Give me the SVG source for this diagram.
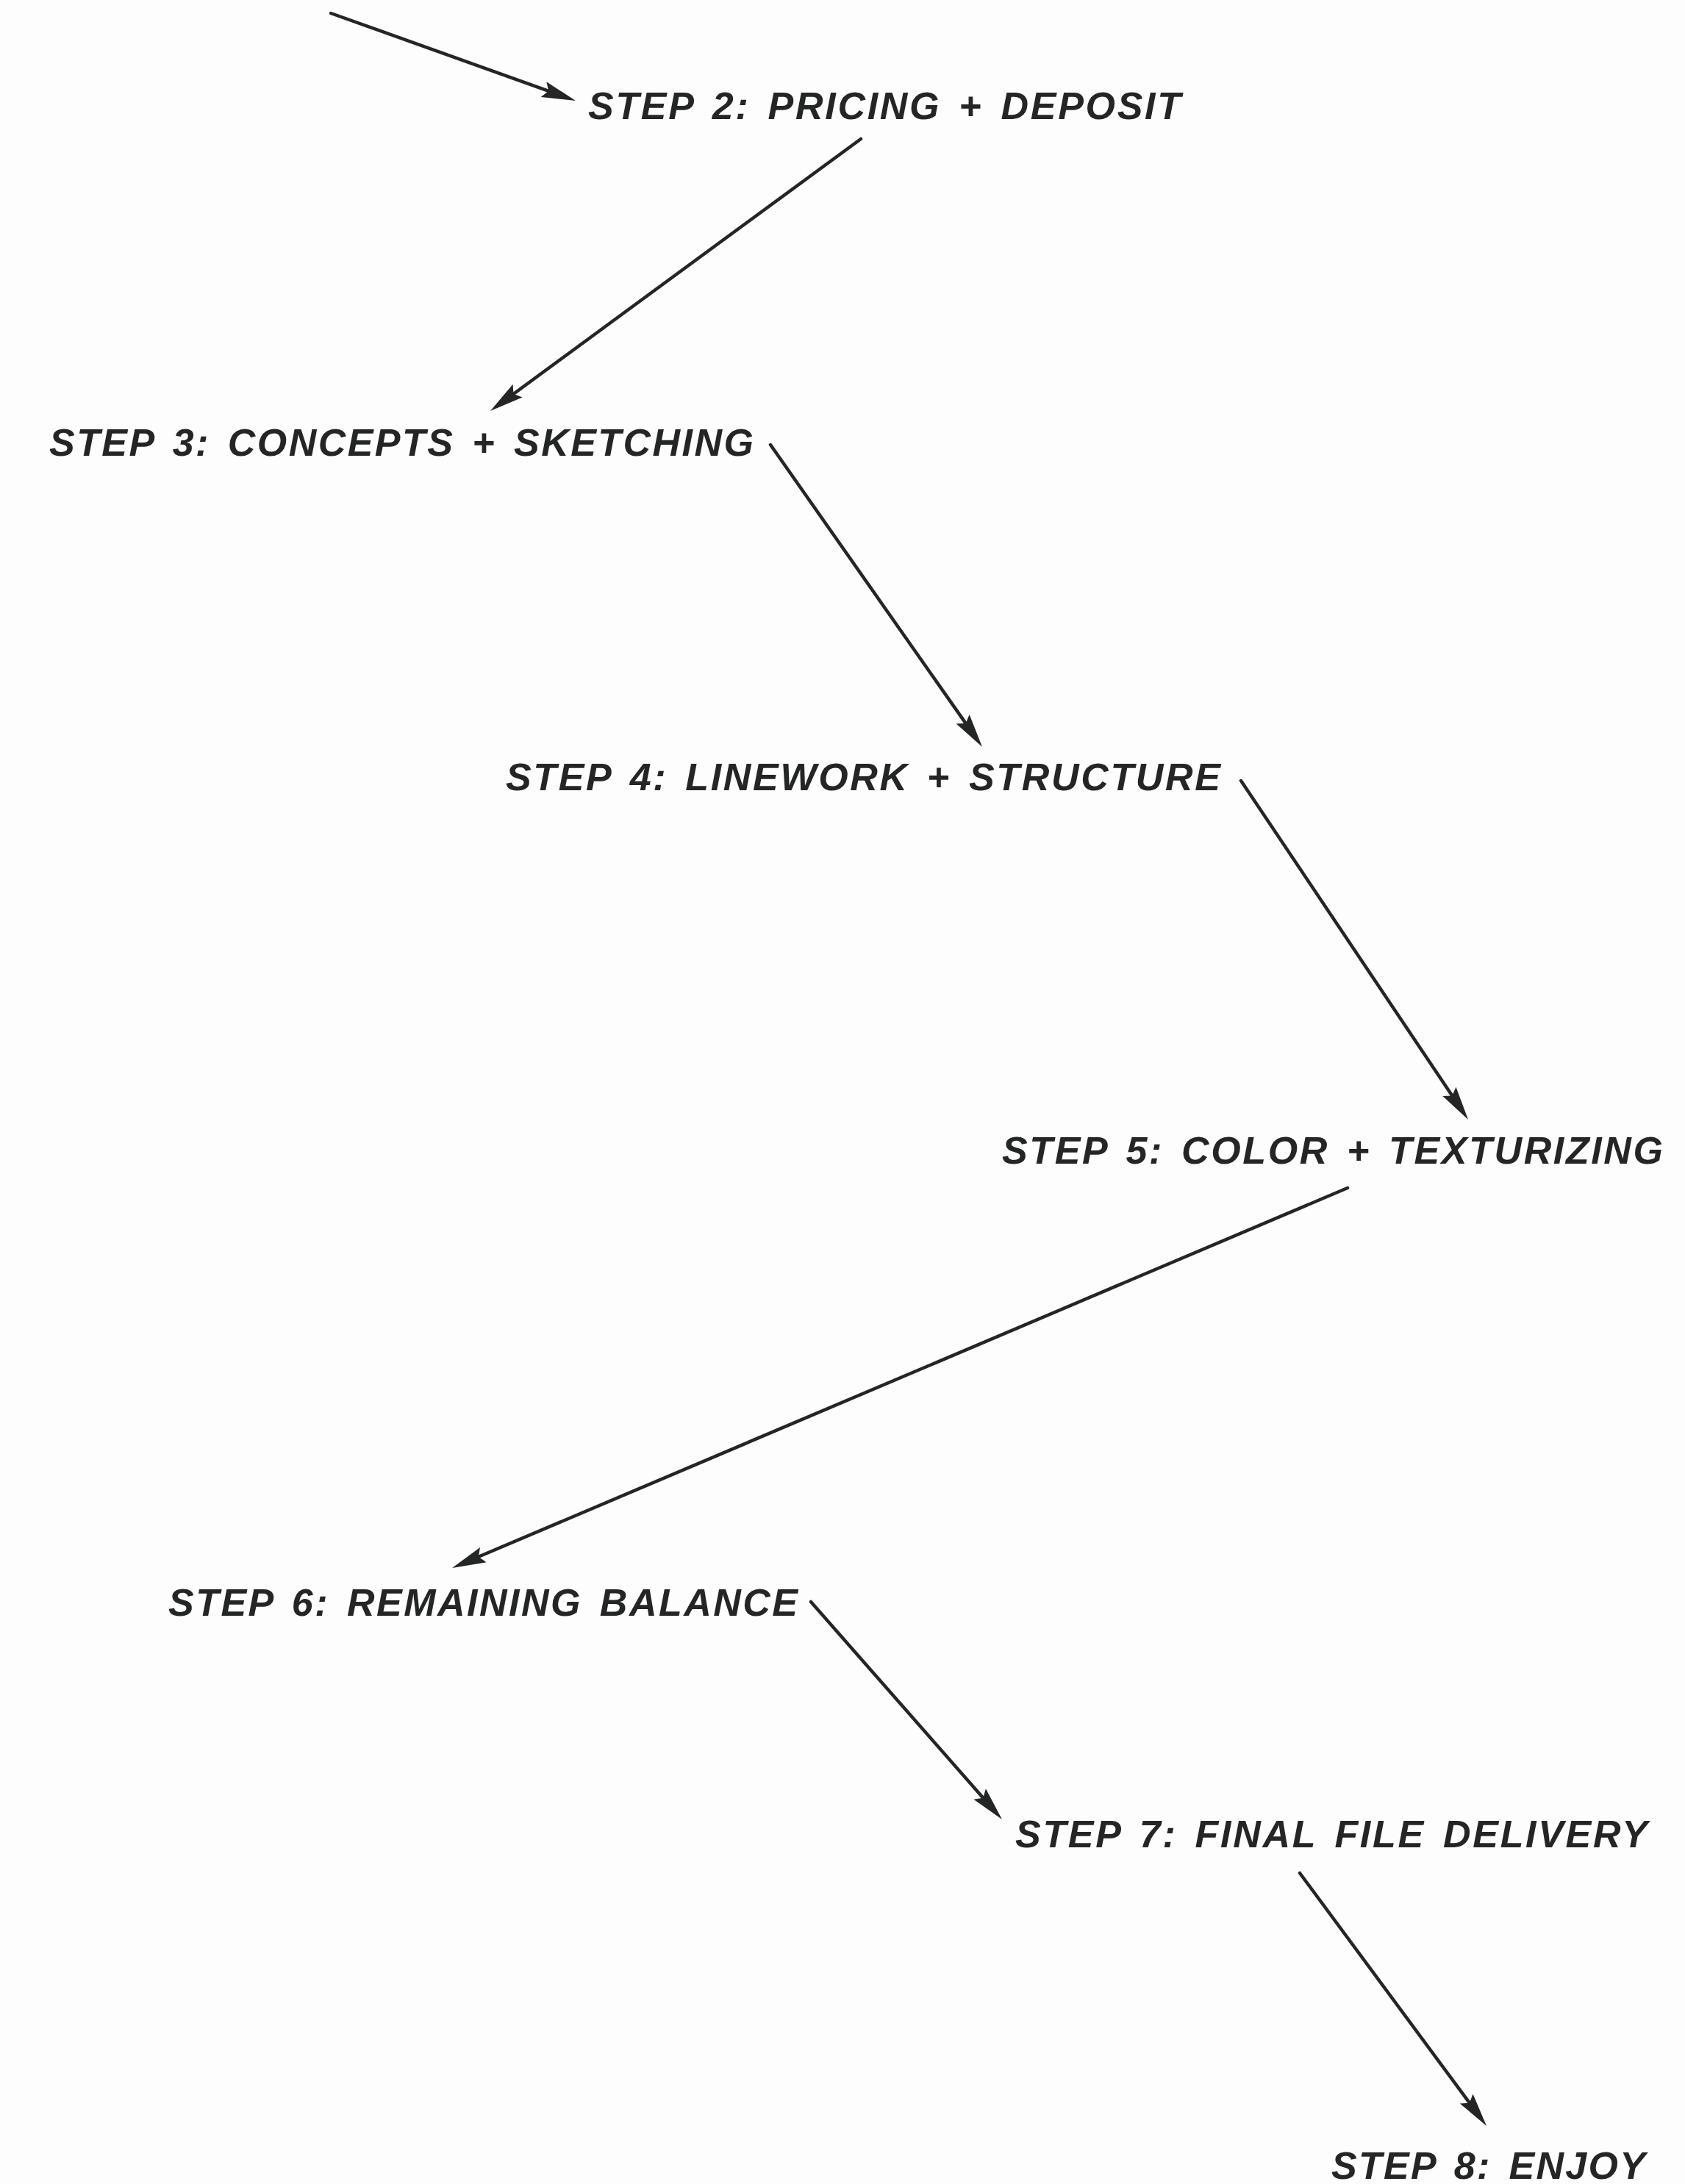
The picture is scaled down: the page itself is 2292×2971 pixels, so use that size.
<svg xmlns="http://www.w3.org/2000/svg" width="2292" height="2971" viewBox="0 0 2292 2971">
<style>
.lbl{font-family:"Liberation Sans",Arial,sans-serif;font-weight:bold;font-style:italic;font-size:52px;word-spacing:7px;fill:#242625}
.conn{stroke:#242625;stroke-width:4.5;fill:none;stroke-linecap:round}
</style>
<defs>
<marker id="ah" viewBox="0 0 46 24" refX="16" refY="12" markerWidth="46" markerHeight="24" markerUnits="userSpaceOnUse" orient="auto">
<path d="M0,1 L46,12 L0,23 L7,12 z" fill="#242625"/>
</marker>
</defs>
<rect width="2292" height="2971" fill="#fdfdfd"/>
<g id="connectors">
<line class="conn" x1="450" y1="18" x2="754.7" y2="126.9" marker-end="url(#ah)"/>
<line class="conn" x1="1171" y1="189" x2="691.2" y2="541.2" marker-end="url(#ah)"/>
<line class="conn" x1="1048" y1="605" x2="1318.8" y2="991.4" marker-end="url(#ah)"/>
<line class="conn" x1="1688" y1="1062" x2="1980.3" y2="1498.1" marker-end="url(#ah)"/>
<line class="conn" x1="1833" y1="1616" x2="642.6" y2="2121.3" marker-end="url(#ah)"/>
<line class="conn" x1="1103" y1="2179" x2="1343.2" y2="2452.5" marker-end="url(#ah)"/>
<line class="conn" x1="1768" y1="2548" x2="2004.2" y2="2867.9" marker-end="url(#ah)"/>
</g>
<g id="step2"><text class="lbl" x="800" y="162" textLength="806" lengthAdjust="spacing">STEP 2: PRICING + DEPOSIT</text></g>
<g id="step3"><text class="lbl" x="67" y="620" textLength="958" lengthAdjust="spacing">STEP 3: CONCEPTS + SKETCHING</text></g>
<g id="step4"><text class="lbl" x="688" y="1075" textLength="972" lengthAdjust="spacing">STEP 4: LINEWORK + STRUCTURE</text></g>
<g id="step5"><text class="lbl" x="1363" y="1583" textLength="899" lengthAdjust="spacing">STEP 5: COLOR + TEXTURIZING</text></g>
<g id="step6"><text class="lbl" x="229" y="2198" textLength="856" lengthAdjust="spacing">STEP 6: REMAINING BALANCE</text></g>
<g id="step7"><text class="lbl" x="1381" y="2513" textLength="860" lengthAdjust="spacing">STEP 7: FINAL FILE DELIVERY</text></g>
<g id="step8"><text class="lbl" x="1811" y="2964" textLength="427" lengthAdjust="spacing">STEP 8: ENJOY</text></g>
</svg>
